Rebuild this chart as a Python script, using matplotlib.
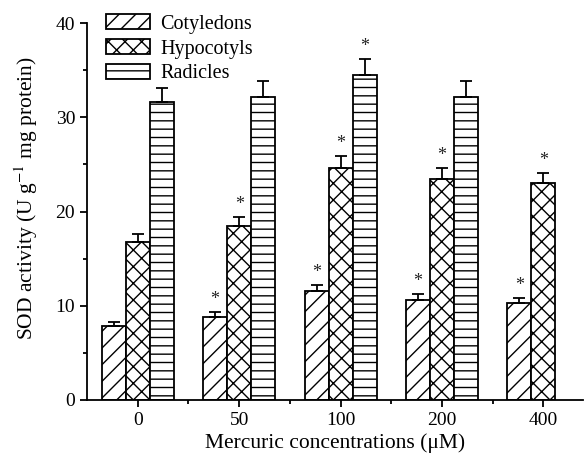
import numpy as np
import matplotlib
matplotlib.use("Agg")
import matplotlib.pyplot as plt

plt.rcParams['font.family'] = ['Liberation Serif', 'DejaVu Serif']
plt.rcParams['hatch.linewidth'] = 1.0
plt.rcParams['mathtext.fontset'] = 'stix'

conc = ['0', '50', '100', '200', '400']
series = ['Cotyledons', 'Hypocotyls', 'Radicles']
hatches = ['//', 'xx', '--']

cot = [7.9, 8.8, 11.55, 10.6, 10.3]
cot_err = [0.4, 0.5, 0.6, 0.6, 0.55]
hyp = [16.8, 18.5, 24.6, 23.4, 23.0]
hyp_err = [0.8, 0.9, 1.3, 1.2, 1.1]
rad = [31.6, 32.2, 34.5, 32.2, np.nan]
rad_err = [1.5, 1.6, 1.7, 1.6, np.nan]

# which bars get the significance star
cot_star = [False, True, True, True, True]
hyp_star = [False, True, True, True, True]
rad_star = [False, False, True, False, False]

fig = plt.figure(figsize=(5.85, 4.57), dpi=100)
ax = fig.add_axes([87/585, 1-400/457, (583-87)/585, (400-23)/457])

x = np.arange(len(conc))
w = 0.237
for i, (vals, errs, stars, h, name) in enumerate(zip(
        [cot, hyp, rad], [cot_err, hyp_err, rad_err],
        [cot_star, hyp_star, rad_star], hatches, series)):
    xs = x + (i - 1) * w
    ax.bar(xs, vals, w, facecolor='white', edgecolor='black', hatch=h,
           linewidth=1.3, label=name, zorder=2)
    vals = np.array(vals, dtype=float)
    errs = np.array(errs, dtype=float)
    ax.errorbar(xs, vals, yerr=[np.zeros_like(errs), errs], fmt='none',
                ecolor='black', elinewidth=1.3, capsize=4, capthick=1.3, zorder=3)
    for xx, v, e, s in zip(xs, vals, errs, stars):
        if s:
            ax.annotate('*', (xx, v + e), xytext=(0, 3), textcoords='offset points',
                        ha='center', va='bottom', fontsize=13, color='#222222')

ax.set_xlim(-0.5, 4.39)
ax.set_ylim(0, 40)
ax.set_xticks(x)
ax.set_xticklabels(conc)
ax.set_xticks(x[:-1] + 0.5, minor=True)
ax.set_yticks([0, 10, 20, 30, 40])
ax.set_yticks([5, 15, 25, 35], minor=True)

for s in ['top', 'right']:
    ax.spines[s].set_visible(False)
for s in ['left', 'bottom']:
    ax.spines[s].set_linewidth(1.3)
ax.tick_params(which='major', direction='out', length=5, width=1.3, labelsize=14)
ax.tick_params(which='minor', direction='out', length=3, width=1.3)

ax.set_xlabel('Mercuric concentrations (\u03bcM)', fontsize=15.5, labelpad=3)
ax.set_ylabel('SOD activity (U g$^{-1}$ mg protein)', fontsize=15.5)
ax.yaxis.set_label_coords(-0.095, 0.535)

ax.legend(loc='upper left', bbox_to_anchor=(0.022, 1.045), frameon=False,
          fontsize=14.5, handlelength=2.2, handleheight=0.8, labelspacing=0.25,
          handletextpad=0.5, borderaxespad=0)

fig.savefig('out.png', dpi=100)
